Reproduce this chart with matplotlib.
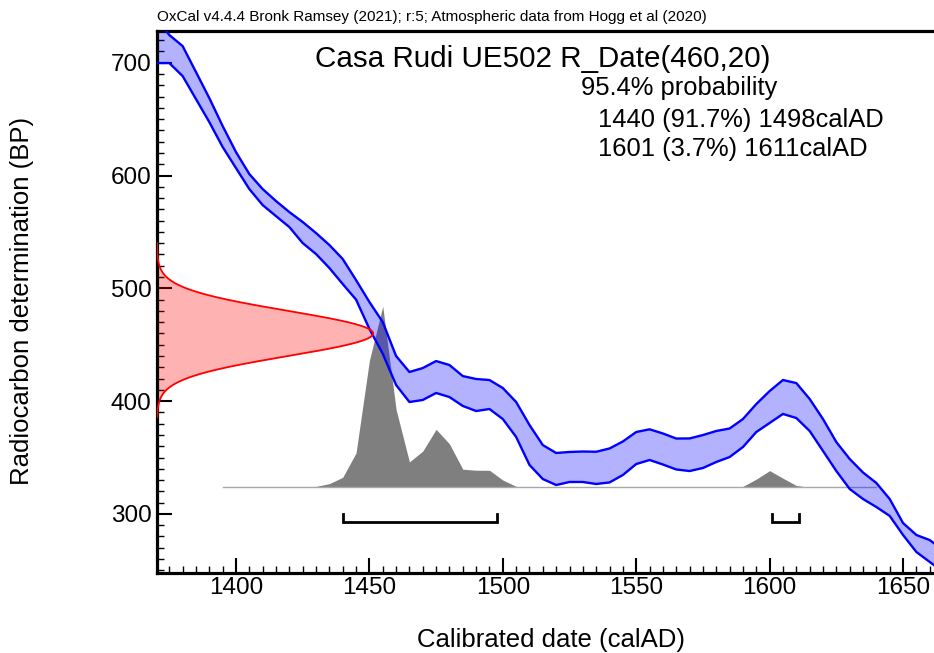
import numpy as np
import matplotlib
matplotlib.use("Agg")
import matplotlib.pyplot as plt
from matplotlib.ticker import MultipleLocator

plt.rcParams['font.family'] = ['Liberation Sans', 'DejaVu Sans']

# calibration curve (IntCal20, 5 yr steps), upper / lower edge of 1-sigma band in BP
cal_years = list(range(1370, 1670, 5))
cal_upper = [740, 724.6, 714.8, 691.8, 668.7, 643.9, 620.8, 601.3, 588, 577.4,
             567.6, 558.8, 549, 538.4, 526, 507.3, 487.9, 470.1, 440, 425.8,
             429.3, 435.5, 432, 422.2, 419.6, 418.7, 411.6, 399.2, 378.8, 361,
             354, 354.9, 355.3, 355.1, 358, 364.2, 372.6, 375, 371.3, 366.8,
             366.9, 369.9, 373.5, 375.7, 384.1, 397.4, 408.9, 418.7, 416, 401.9,
             384.1, 363.7, 348.7, 336.7, 327.4, 313.2, 291.9, 281.3, 276.8, 268]
cal_lower = [699.7, 699.7, 688.2, 667.8, 647.4, 625.3, 606.6, 588, 573.8, 564,
             554.3, 540.1, 530.4, 518, 503.8, 490, 464, 442, 414.3, 399.2,
             401, 407.2, 403.6, 395.7, 391.2, 393, 384.1, 368.2, 343.4, 330.9,
             325.6, 328.3, 328.3, 326.5, 327.9, 334.5, 344.2, 347.8, 343.8, 339.4,
             338, 340.7, 346, 350.4, 359.3, 372.6, 380.6, 388.6, 385, 373.5,
             355.8, 338, 322.1, 313.2, 306.1, 298.2, 281.3, 266.2, 257.4, 248.5]

# calibrated probability (relative to max)
prob_years = list(range(1395, 1645, 5))
prob_values = [0, 0, 0, 0, 0, 0, 0.003, 0.005, 0.02, 0.055,
               0.19, 0.70, 1.0, 0.43, 0.14, 0.20, 0.32, 0.24, 0.10, 0.094,
               0.094, 0.04, 0.005, 0, 0, 0, 0, 0, 0, 0,
               0, 0, 0, 0, 0, 0, 0, 0, 0, 0.005,
               0.045, 0.092, 0.05, 0.01, 0, 0, 0, 0, 0, 0]

# measurement and 95.4% ranges
r_date, r_err = 460, 20
ranges = [(1440, 1498), (1601, 1611)]
range_text = ["1440 (91.7%) 1498calAD", "1601 (3.7%) 1611calAD"]

xmin, xmax = 1370.4, 1661.6
ymin, ymax = 247.6, 728.4

fig = plt.figure(figsize=(9.34, 6.53), dpi=100)
ax = fig.add_axes([157 / 934, 80 / 653, 777 / 934, 542.3 / 653])
ax.set_xlim(xmin, xmax)
ax.set_ylim(ymin, ymax)

# posterior distribution (grey)
base = 323.6
height = 160.5
py = base + height * np.array(prob_values)
ax.fill_between(prob_years, base, py, color='#7f7f7f', lw=0, zorder=1)
ax.plot([prob_years[0], prob_years[-1]], [base, base], color='#a8a8a8', lw=1, zorder=1)

# calibration curve
ax.fill_between(cal_years, cal_lower, cal_upper, color='blue', alpha=0.3, lw=0, zorder=2)
ax.plot(cal_years, cal_upper, color='#0000ff', lw=1.7, zorder=3)
ax.plot(cal_years, cal_lower, color='#0000ff', lw=1.7, zorder=3)

# radiocarbon date (red)
bp = np.linspace(386, 540, 300)
dens = np.exp(-0.5 * ((bp - r_date) / r_err) ** 2)
rx = xmin + 81 * dens
ax.fill_betweenx(bp, xmin, rx, color='red', alpha=0.3, lw=0, zorder=2)
ax.plot(rx, bp, color='red', lw=1.3, zorder=3)

# range brackets
for a, b in ranges:
    ax.plot([a, a, b, b], [300, 292.8, 292.8, 300], color='black', lw=2,
            solid_joinstyle='miter', zorder=4)

# axes styling
for s in ['left', 'bottom', 'top']:
    ax.spines[s].set_linewidth(2.3)
ax.spines['right'].set_visible(False)
ax.xaxis.set_major_locator(MultipleLocator(50))
ax.xaxis.set_minor_locator(MultipleLocator(5))
ax.yaxis.set_major_locator(MultipleLocator(100))
ax.yaxis.set_minor_locator(MultipleLocator(10))
ax.tick_params(which='major', direction='in', length=11, width=1.5, labelsize=17.5,
               top=False, right=False)
ax.tick_params(which='minor', direction='in', length=5, width=1, top=False, right=False)
ax.tick_params(axis='x', which='major', pad=3)
ax.tick_params(axis='y', which='major', pad=4)

ax.set_xlabel("Calibrated date (calAD)", fontsize=18.5, va='center', ha='center')
ax.set_ylabel("Radiocarbon determination (BP)", fontsize=18.5, va='center', ha='center')
ax.xaxis.set_label_coords((551 - 157) / 777, (573 - 640) / 542.3)
ax.yaxis.set_label_coords((22 - 157) / 777, (573 - 301) / 542.3)

fig.text(157 / 934, 1 - 17 / 653, "OxCal v4.4.4 Bronk Ramsey (2021); r:5; Atmospheric data from Hogg et al (2020)",
         fontsize=11, va='center', ha='left')
fig.text(543 / 934, 1 - 66.7 / 653, "Casa Rudi UE502 R_Date(460,20)", fontsize=21.3,
         ha='center', va='baseline')
fig.text(581 / 934, 1 - 95 / 653, "95.4% probability", fontsize=18.4, ha='left', va='baseline')
fig.text(598 / 934, 1 - 126.7 / 653, range_text[0], fontsize=18.4, ha='left', va='baseline')
fig.text(598 / 934, 1 - 156 / 653, range_text[1], fontsize=18.4, ha='left', va='baseline')

fig.savefig("out.png", dpi=100)
